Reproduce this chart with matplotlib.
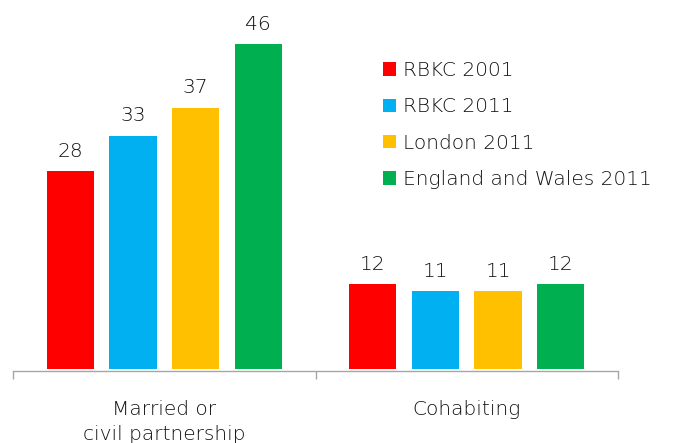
import matplotlib
matplotlib.use("Agg")
import matplotlib.pyplot as plt
import numpy as np
from matplotlib.patches import Patch

categories = ["Married or\ncivil partnership", "Cohabiting"]
series_names = ["RBKC 2001", "RBKC 2011", "London 2011", "England and Wales 2011"]
rbkc_2001 = [28, 12]
rbkc_2011 = [33, 11]
london_2011 = [37, 11]
england_wales_2011 = [46, 12]
series_values = [rbkc_2001, rbkc_2011, london_2011, england_wales_2011]
colors = ["#FF0000", "#00B0F0", "#FFC000", "#00B050"]

plt.rcParams["font.family"] = ["DejaVu Sans"]
plt.rcParams["font.weight"] = 200
text_color = "#111111"
fs = 14.5

fig = plt.figure(figsize=(6.85, 4.43), dpi=100)
ax = fig.add_axes([13 / 685, (443 - 369) / 443, (618 - 13) / 685, 353 / 443])

x = np.arange(len(categories))
width = 0.156
step = 0.207
offsets = (np.arange(len(series_names)) - 1.5) * step

for vals, off, col, name in zip(series_values, offsets, colors, series_names):
    bars = ax.bar(x + off, vals, width=width, color=col, label=name)
    for b, v in zip(bars, vals):
        ax.text(b.get_x() + b.get_width() / 2, v + 1.5, f"{v}",
                ha="center", va="bottom", fontsize=fs, color=text_color,
                clip_on=False)

ax.set_xlim(-0.5, 1.5)
ax.set_ylim(0, 50)

for s in ["top", "right", "left"]:
    ax.spines[s].set_visible(False)
ax.spines["bottom"].set_color("#A6A6A6")
ax.spines["bottom"].set_linewidth(1.0)
ax.spines["bottom"].set_position(("outward", 1.5))

ax.set_yticks([])
ax.set_xticks([-0.5, 0.5, 1.5])
ax.set_xticklabels([])
ax.tick_params(axis="x", direction="out", length=6, width=1.0, color="#A6A6A6")
ax.set_xticks(x, minor=True)
ax.set_xticklabels(categories, minor=True, fontsize=fs, color=text_color,
                   linespacing=1.38)
ax.tick_params(axis="x", which="minor", length=0, pad=21)

handles = [Patch(facecolor=c, edgecolor="none") for c in colors]
fig.legend(handles, series_names, loc="upper left",
           bbox_to_anchor=(383 / 685, 1 - 61 / 443),
           frameon=False, fontsize=fs, labelcolor=text_color,
           handlelength=0.65, handleheight=0.65, handletextpad=0.35,
           labelspacing=0.86, borderpad=0, borderaxespad=0)

fig.savefig("out.png", dpi=100, facecolor="white")
